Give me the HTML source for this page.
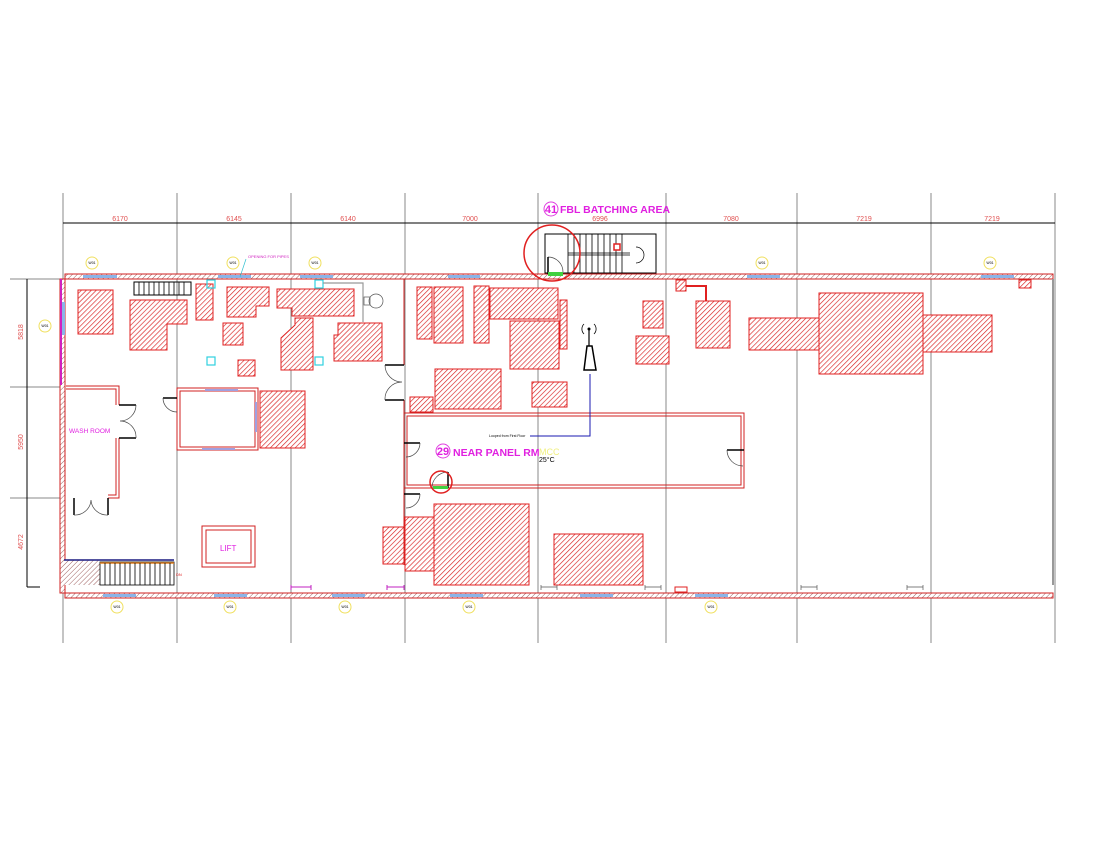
<!DOCTYPE html>
<html><head><meta charset="utf-8"><style>
html,body{margin:0;padding:0;background:#fff;}
svg{display:block;font-family:"Liberation Sans",sans-serif;}
</style></head><body>
<svg width="1099" height="849" viewBox="0 0 1099 849" xmlns="http://www.w3.org/2000/svg">
<defs>
<pattern id="h" width="3.5" height="3.5" patternUnits="userSpaceOnUse" patternTransform="rotate(45)">
<rect width="3.5" height="3.5" fill="#fff"/><line x1="0" y1="0" x2="0" y2="3.5" stroke="#d82020" stroke-width="1.3"/>
</pattern>
<pattern id="w" width="3.5" height="3.5" patternUnits="userSpaceOnUse" patternTransform="rotate(45)">
<rect width="3.5" height="3.5" fill="#fff"/><line x1="0" y1="0" x2="0" y2="3.5" stroke="#a06060" stroke-width="1"/>
</pattern>
</defs>
<g stroke="#888" stroke-width="1">
<line x1="63" y1="193" x2="63" y2="643"/><line x1="177" y1="193" x2="177" y2="643"/>
<line x1="291" y1="193" x2="291" y2="643"/><line x1="405" y1="193" x2="405" y2="643"/>
<line x1="538" y1="193" x2="538" y2="643"/><line x1="666" y1="193" x2="666" y2="643"/>
<line x1="797" y1="193" x2="797" y2="643"/><line x1="931" y1="193" x2="931" y2="643"/>
<line x1="1055" y1="193" x2="1055" y2="643"/>
<line x1="10" y1="279" x2="60" y2="279"/><line x1="10" y1="387" x2="60" y2="387"/>
<line x1="10" y1="498" x2="60" y2="498"/>
</g>
<line x1="63" y1="223" x2="1055" y2="223" stroke="#000"/>
<line x1="27" y1="279" x2="27" y2="587" stroke="#000"/>
<line x1="27" y1="587" x2="40" y2="587" stroke="#000"/>
<g fill="#e05050" font-size="7" text-anchor="middle">
<text x="120" y="221">6170</text><text x="234" y="221">6145</text><text x="348" y="221">6140</text>
<text x="470" y="221">7000</text><text x="600" y="221">6996</text><text x="731" y="221">7080</text>
<text x="864" y="221">7219</text><text x="992" y="221">7219</text>
<text transform="translate(23,332) rotate(-90)">5818</text>
<text transform="translate(23,442) rotate(-90)">5950</text>
<text transform="translate(23,542) rotate(-90)">4672</text>
</g>
<g stroke="#d02020" stroke-width="1" fill="url(#w)">
<rect x="65" y="274" width="988" height="5"/>
<rect x="65" y="593" width="988" height="5"/>
<rect x="60" y="279" width="5" height="314"/>
</g>
<line x1="1053" y1="279" x2="1053" y2="585" stroke="#999" stroke-width="2"/>
<line x1="61" y1="279" x2="61" y2="385" stroke="#d020c0" stroke-width="2"/>
<g fill="#8ab4e8">
<rect x="83" y="275" width="34" height="3"/><rect x="218" y="275" width="33" height="3"/><rect x="300" y="275" width="33" height="3"/>
<rect x="448" y="275" width="32" height="3"/><rect x="747" y="275" width="33" height="3"/><rect x="981" y="275" width="33" height="3"/>
<rect x="103" y="594" width="33" height="3"/><rect x="214" y="594" width="33" height="3"/><rect x="332" y="594" width="33" height="3"/>
<rect x="450" y="594" width="33" height="3"/><rect x="580" y="594" width="33" height="3"/><rect x="695" y="594" width="33" height="3"/>
<rect x="62" y="302" width="3" height="33"/>
</g>
<g fill="#fff" stroke="#f0e060" stroke-width="1">
<circle cx="92" cy="263" r="6"/><circle cx="233" cy="263" r="6"/><circle cx="315" cy="263" r="6"/>
<circle cx="762" cy="263" r="6"/><circle cx="990" cy="263" r="6"/><circle cx="45" cy="326" r="6"/>
<circle cx="117" cy="607" r="6"/><circle cx="230" cy="607" r="6"/><circle cx="345" cy="607" r="6"/>
<circle cx="469" cy="607" r="6"/><circle cx="711" cy="607" r="6"/>
</g>
<g font-size="3.5" text-anchor="middle" fill="#000">
<text x="92" y="264">W01</text><text x="233" y="264">W01</text><text x="315" y="264">W01</text>
<text x="762" y="264">W01</text><text x="990" y="264">W01</text><text x="45" y="327">W01</text>
<text x="117" y="608">W01</text><text x="230" y="608">W01</text><text x="345" y="608">W01</text>
<text x="469" y="608">W01</text><text x="711" y="608">W01</text>
</g>
<text x="248" y="258" font-size="4" fill="#d020c0">OPENING FOR PIPES</text>
<line x1="246" y1="259" x2="240" y2="277" stroke="#30c0d0" stroke-width="0.7"/>
<g fill="url(#h)" stroke="#e02020" stroke-width="1">
<rect x="78" y="290" width="35" height="44"/>
<polygon points="130,300 187,300 187,324 167,324 167,350 130,350"/>
<rect x="196" y="284" width="17" height="36"/>
<polygon points="227,287 269,287 269,306 256,306 256,317 227,317"/>
<polygon points="277,289 354,289 354,316 292,316 292,308 277,308"/>
<rect x="223" y="323" width="20" height="22"/>
<rect x="238" y="360" width="17" height="16"/>
<polygon points="281,338 295,325 295,318 313,318 313,370 281,370"/>
<polygon points="338,323 382,323 382,361 334,361 334,335 338,335"/>
<rect x="260" y="391" width="45" height="57"/>
<rect x="417" y="287" width="15" height="52"/>
<rect x="434" y="287" width="29" height="56"/>
<rect x="474" y="286" width="15" height="57"/>
<rect x="490" y="288" width="68" height="31"/>
<rect x="510" y="321" width="49" height="48"/>
<rect x="560" y="300" width="7" height="49"/>
<rect x="643" y="301" width="20" height="27"/>
<rect x="636" y="336" width="33" height="28"/>
<rect x="696" y="301" width="34" height="47"/>
<rect x="676" y="280" width="10" height="11"/>
<rect x="435" y="369" width="66" height="40"/>
<rect x="410" y="397" width="23" height="15"/>
<rect x="532" y="382" width="35" height="25"/>
<rect x="434" y="504" width="95" height="81"/>
<rect x="405" y="517" width="29" height="54"/>
<rect x="383" y="527" width="21" height="37"/>
<rect x="554" y="534" width="89" height="51"/>
<rect x="749" y="318" width="70" height="32"/>
<rect x="819" y="293" width="104" height="81"/>
<rect x="923" y="315" width="69" height="37"/>
<rect x="1019" y="280" width="12" height="8"/>
</g>
<polyline points="686,286 706,286 706,301" fill="none" stroke="#e02020" stroke-width="2"/>
<g fill="none" stroke="#d02020" stroke-width="1">
<rect x="177" y="388" width="81" height="62"/><rect x="180" y="391" width="75" height="56"/>
<polyline points="66,386 119,386 119,405"/><polyline points="66,389 116,389 116,405"/>
<polyline points="119,438 119,498 108,498"/><polyline points="116,438 116,495 108,495"/>
<rect x="202" y="526" width="53" height="41"/><rect x="206" y="530" width="45" height="33"/>
<rect x="404" y="413" width="340" height="75"/><rect x="407" y="416" width="334" height="69"/>
<line x1="404" y1="279" x2="404" y2="365"/><line x1="404" y1="400" x2="404" y2="565"/>
</g>
<g fill="none" stroke="#000" stroke-width="1.5">
<line x1="119" y1="405" x2="136" y2="405"/><line x1="119" y1="438" x2="136" y2="438"/>
<line x1="74" y1="498" x2="74" y2="515"/><line x1="108" y1="498" x2="108" y2="515"/>
<line x1="163" y1="398" x2="177" y2="398"/>
<line x1="385" y1="365" x2="404" y2="365"/><line x1="385" y1="400" x2="404" y2="400"/>
<line x1="404" y1="443" x2="420" y2="443"/><line x1="727" y1="450" x2="744" y2="450"/>
<line x1="404" y1="494" x2="420" y2="494"/>
<line x1="448" y1="472" x2="448" y2="488"/>
</g>
<g fill="none" stroke="#444" stroke-width="0.7">
<path d="M136,405 A16,16 0 0,1 120,421 A16,16 0 0,1 136,438"/>
<path d="M74,515 A16,16 0 0,0 91,500 A16,16 0 0,0 108,515"/>
<path d="M163,398 A14,14 0 0,0 177,412"/>
<path d="M385,365 A17,17 0 0,0 402,382 A17,17 0 0,0 385,400"/>
<path d="M420,443 A14,14 0 0,1 406,457"/>
<path d="M727,450 A16,16 0 0,0 743,466"/>
<path d="M420,494 A14,14 0 0,1 406,508"/>
<path d="M448,472 A16,16 0 0,0 432,488"/>
<path d="M548,257 A15,15 0 0,1 563,272"/>
</g>
<rect x="433" y="486" width="15" height="3" fill="#40d040"/>
<circle cx="441" cy="482" r="11" fill="none" stroke="#e02020" stroke-width="1.5"/>
<rect x="545" y="234" width="111" height="39" fill="none" stroke="#000"/>
<g stroke="#000" stroke-width="0.8">
<line x1="568" y1="253" x2="630" y2="253"/><line x1="568" y1="255" x2="630" y2="255"/>
<path d="M568,234 V273 M574,234 V273 M580,234 V273 M586,234 V273 M592,234 V273 M598,234 V273 M604,234 V273 M610,234 V273 M616,234 V273 M622,234 V273"/>
</g>
<path d="M636,247 A8,8 0 0,1 636,263" fill="none" stroke="#000" stroke-width="0.7"/>
<rect x="614" y="244" width="6" height="6" fill="#fff" stroke="#e02020" stroke-width="1.5"/>
<line x1="548" y1="257" x2="548" y2="274" stroke="#000" stroke-width="1.5"/>
<rect x="548" y="272" width="15" height="4" fill="#40d040"/>
<circle cx="552" cy="253" r="28" fill="none" stroke="#e02020" stroke-width="1.5"/>
<rect x="134" y="282" width="57" height="13" fill="none" stroke="#000"/>
<path d="M139,282V295M144,282V295M149,282V295M154,282V295M159,282V295M164,282V295M169,282V295M174,282V295M179,282V295M184,282V295" stroke="#000" stroke-width="0.8"/>
<rect x="64" y="560" width="36" height="25" fill="url(#w)"/>
<rect x="100" y="562" width="74" height="23" fill="#fff" stroke="#000" stroke-width="0.8"/>
<line x1="64" y1="560" x2="174" y2="560" stroke="#1a1a80" stroke-width="1.5"/>
<line x1="100" y1="563" x2="174" y2="563" stroke="#e08020" stroke-width="1.5"/>
<path d="M105,563V585M110,563V585M115,563V585M120,563V585M125,563V585M130,563V585M135,563V585M140,563V585M145,563V585M150,563V585M155,563V585M160,563V585M165,563V585M170,563V585" stroke="#000" stroke-width="0.8"/>
<text x="176" y="576" font-size="4" fill="#e02020">DN</text>
<g fill="none" stroke="#30d0e0" stroke-width="1.2">
<rect x="207" y="280" width="8" height="8"/><rect x="315" y="280" width="8" height="8"/>
<rect x="207" y="357" width="8" height="8"/><rect x="315" y="357" width="8" height="8"/>
</g>
<polyline points="323,283 363,283 363,322" fill="none" stroke="#999" stroke-width="1.2"/>
<circle cx="376" cy="301" r="7" fill="none" stroke="#555" stroke-width="0.7"/>
<rect x="364" y="297" width="6" height="8" fill="none" stroke="#555" stroke-width="0.7"/>
<g fill="#a0a0e0"><rect x="205" y="389" width="33" height="2"/><rect x="202" y="448" width="33" height="2"/><rect x="255" y="402" width="2" height="30"/></g>
<path d="M584,370 L587,346 L592,346 L596,370 Z" fill="#fff" stroke="#000" stroke-width="1.5"/>
<line x1="589" y1="328" x2="589" y2="346" stroke="#000" stroke-width="1.2"/>
<circle cx="589" cy="329" r="1.5" fill="#000"/>
<path d="M584,324 A7,7 0 0,0 584,334 M594,324 A7,7 0 0,1 594,334" fill="none" stroke="#000" stroke-width="0.8"/>
<polyline points="590,374 590,436 530,436" fill="none" stroke="#1a1ab0" stroke-width="1"/>
<text x="489" y="437" font-size="3.5" fill="#000">Looped from First Floor</text>
<circle cx="551" cy="209" r="7" fill="none" stroke="#e040e0" stroke-width="1"/>
<text x="551" y="213" font-size="11" font-weight="bold" fill="#e020e0" text-anchor="middle">41</text>
<text x="560" y="213" font-size="10.5" font-weight="bold" fill="#e020e0">FBL BATCHING AREA</text>
<circle cx="443" cy="451" r="7" fill="none" stroke="#e040e0" stroke-width="1"/>
<text x="443" y="455" font-size="11" font-weight="bold" fill="#e020e0" text-anchor="middle">29</text>
<text x="453" y="456" font-size="10.5" font-weight="bold" fill="#e020e0">NEAR PANEL RM</text>
<text x="539" y="455" font-size="9" fill="#f0f080">MCC</text>
<text x="539" y="462" font-size="7" fill="#000">25°C</text>
<text x="69" y="433" font-size="6.5" fill="#e020e0">WASH ROOM</text>
<text x="220" y="551" font-size="8" fill="#e020e0">LIFT</text>
<g stroke="#c020c0" stroke-width="1" fill="none">
<path d="M291,585v5M291,587h20M311,585v5"/><path d="M387,585v5M387,587h17M404,585v5"/>
</g>
<g stroke="#555" stroke-width="0.7" fill="none">
<path d="M541,585v5M541,587h16M557,585v5"/><path d="M645,585v5M645,587h16M661,585v5"/>
<path d="M801,585v5M801,587h16M817,585v5"/><path d="M907,585v5M907,587h16M923,585v5"/>
</g>
<rect x="675" y="587" width="12" height="5" fill="#fff" stroke="#e02020"/>
</svg>
</body></html>
